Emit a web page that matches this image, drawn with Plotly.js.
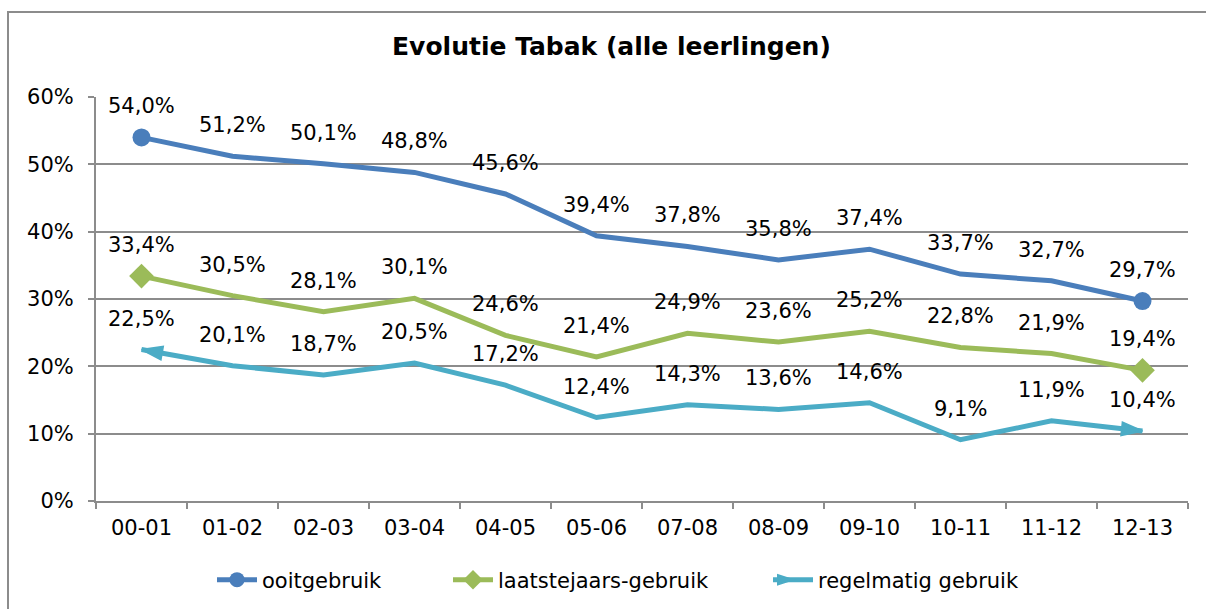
<!DOCTYPE html>
<html>
<head>
<meta charset="utf-8">
<script src="https://cdn.plot.ly/plotly-3.0.1.min.js"></script>
<style>
  html, body { margin: 0; padding: 0; overflow: hidden; background: #fff; }
  #chart { position: absolute; left: 0; top: 0; width: 1206px; height: 609px; }
  #frame { position: absolute; left: 7px; top: 11px; width: 1300px; height: 700px;
           border: 2px solid #8c8c8c; pointer-events: none; }
</style>
</head>
<body>
<div id="chart"></div>
<div id="frame"></div>
<script>
const categories = ['00-01','01-02','02-03','03-04','04-05','05-06','07-08','08-09','09-10','10-11','11-12','12-13'];
const ooitgebruik = [54.0, 51.2, 50.1, 48.8, 45.6, 39.4, 37.8, 35.8, 37.4, 33.7, 32.7, 29.7];
const laatstejaars = [33.4, 30.5, 28.1, 30.1, 24.6, 21.4, 24.9, 23.6, 25.2, 22.8, 21.9, 19.4];
const regelmatig = [22.5, 20.1, 18.7, 20.5, 17.2, 12.4, 14.3, 13.6, 14.6, 9.1, 11.9, 10.4];
const seriesNames = ['ooitgebruik', 'laatstejaars-gebruik', 'regelmatig gebruik'];
const yTicks = [0, 10, 20, 30, 40, 50, 60];

const colors = ['#4a7ebb', '#9bbb59', '#4bacc6'];
const FONT = 'DejaVu Sans, Verdana, sans-serif';
const FS = 21;
const n = categories.length;
const endSizes = (s) => categories.map((_, i) => (i === 0 || i === n - 1) ? s : 0);

const fmt = (v) => v.toFixed(1).replace('.', ',') + '%';

const traces = [];
const allSeries = [ooitgebruik, laatstejaars, regelmatig];
const symbols = ['circle', 'diamond', 'arrow'];
const markerSizes = [18, 19, 22];
const legendIds = ['legend', 'legend2', 'legend3'];

allSeries.forEach((vals, k) => {
  const marker = { color: colors[k], size: endSizes(markerSizes[k]), symbol: symbols[k],
                   opacity: 1, line: { width: k === 2 ? 1.5 : 0, color: colors[k] } };
  if (k === 2) {
    marker.angle = categories.map((_, i) => i === 0 ? 280 : (i === n - 1 ? 96 : 0));
    marker.angleref = 'up';
  }
  traces.push({
    x: categories, y: vals, type: 'scatter', mode: 'lines+markers',
    name: seriesNames[k], showlegend: false,
    line: { color: colors[k], width: 5 },
    marker: marker, hoverinfo: 'skip', cliponaxis: false
  });
});

// legend entries
allSeries.forEach((vals, k) => {
  const marker = { color: colors[k], size: k === 2 ? 16 : 15, symbol: symbols[k], opacity: 1,
                   line: { width: k === 2 ? 1.5 : 0, color: colors[k] } };
  if (k === 2) { marker.angle = 90; }
  traces.push({
    x: [null], y: [null], type: 'scatter', mode: 'lines+markers',
    name: seriesNames[k], showlegend: true, legend: legendIds[k],
    line: { color: colors[k], width: 5 }, marker: marker
  });
});

const annotations = [];
allSeries.forEach((vals) => {
  vals.forEach((v, i) => {
    annotations.push({
      x: categories[i], y: v, xref: 'x', yref: 'y', text: fmt(v),
      showarrow: false, yshift: 31,
      font: { family: FONT, size: FS, color: '#000' }
    });
  });
});

const legendStyle = (leftPx) => ({
  orientation: 'h', x: leftPx / 1206, xref: 'container', xanchor: 'left',
  y: 1 - 580 / 609, yref: 'container', yanchor: 'middle',
  font: { family: FONT, size: FS, color: '#000' }, itemwidth: 40,
  bgcolor: 'rgba(0,0,0,0)', borderwidth: 0
});

const layout = {
  width: 1206, height: 609,
  margin: { l: 96, r: 18, t: 97, b: 108 },
  paper_bgcolor: '#fff', plot_bgcolor: '#fff',
  font: { family: FONT, size: FS, color: '#000' },
  title: { text: '<b>Evolutie Tabak (alle leerlingen)</b>', x: 0.507, xanchor: 'center',
           y: 1 - 46 / 609, yanchor: 'middle', yref: 'container',
           font: { family: FONT, size: 25, color: '#000' } },
  xaxis: {
    type: 'category', categoryorder: 'array', categoryarray: categories,
    range: [-0.5, n - 0.5], showgrid: false, zeroline: false,
    showline: true, linecolor: '#8c8c8c', linewidth: 2,
    ticks: 'outside', tickson: 'boundaries', ticklen: 6, tickwidth: 2, tickcolor: '#8c8c8c',
    ticklabelstandoff: 7,
    tickfont: { family: FONT, size: FS, color: '#000' }
  },
  yaxis: {
    range: [0, 60], tickvals: yTicks, ticktext: yTicks.map(t => t + '%'),
    showgrid: true, gridcolor: '#8c8c8c', gridwidth: 2, zeroline: false,
    showline: true, linecolor: '#8c8c8c', linewidth: 2,
    ticks: 'outside', ticklen: 6, tickwidth: 2, tickcolor: '#8c8c8c',
    ticklabelstandoff: 10,
    tickfont: { family: FONT, size: FS, color: '#000' }
  },
  showlegend: true,
  legend: legendStyle(212),
  legend2: legendStyle(448),
  legend3: legendStyle(768),
  annotations: annotations
};

Plotly.newPlot('chart', traces, layout, { staticPlot: true, displayModeBar: false });
</script>
</body>
</html>
